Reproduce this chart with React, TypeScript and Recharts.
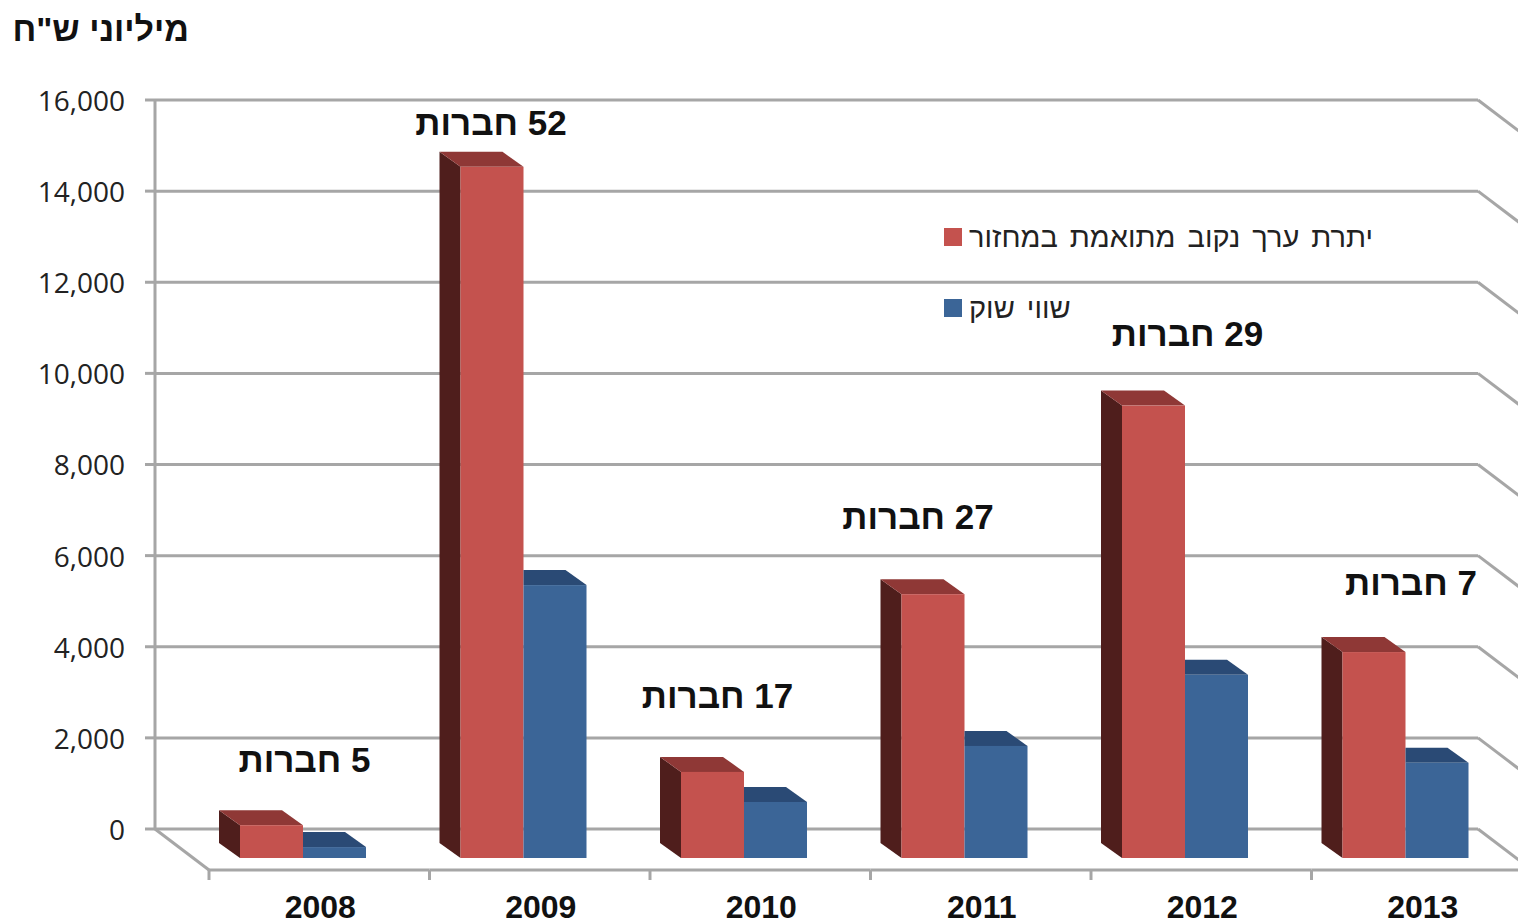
import React from 'react'
import { BarChart, Bar, XAxis, YAxis, CartesianGrid, Legend, LabelList } from 'recharts'

const years = ['2008', '2009', '2010', '2011', '2012', '2013']
const parValue = [720, 15170, 1890, 5790, 9930, 4520]
const marketValue = [240, 5990, 1230, 2460, 4020, 2090]
const companies = [5, 52, 17, 27, 29, 7]
const yTicks = [0, 2000, 4000, 6000, 8000, 10000, 12000, 14000, 16000]

const data = years.map((year, i) => ({
  year,
  parValue: parValue[i],
  marketValue: marketValue[i],
  companies: companies[i],
}))

// fake 3D: front faces sit lower right of the wall, tops and sides go back up left
const FRONT_DX = 38
const FRONT_DY = 29
const DEPTH_X = 21
const DEPTH_Y = 15
const FLOOR_DX = 54
const FLOOR_DY = 41
const BAND = 220.5
const GREY = '#a6a6a6'
const BOLD = '"Liberation Sans", Arial, sans-serif'
const LIGHT = '"Open Sans", "Liberation Sans", sans-serif'

const labelNudge = [
  [33, -66],
  [-1, -44],
  [5, -76],
  [-15, -78],
  [34, -72],
  [37, -70],
]

function RedBar({ x, y, width, height }: any) {
  const fx = x + FRONT_DX
  const fy = y + FRONT_DY
  const bx = fx - DEPTH_X
  const by = fy - DEPTH_Y
  return (
    <g>
      <polygon points={`${fx},${fy} ${fx},${fy + height} ${bx},${fy + height - DEPTH_Y} ${bx},${by}`} fill="#4f1e1c" />
      <polygon points={`${fx},${fy} ${fx + width},${fy} ${bx + width},${by} ${bx},${by}`} fill="#8f3836" />
      <rect x={fx} y={fy} width={width} height={height} fill="#c4524e" />
    </g>
  )
}

function BlueBar({ x, y, width, height }: any) {
  const fx = x + FRONT_DX
  const fy = y + FRONT_DY
  const by = fy - DEPTH_Y
  return (
    <g>
      <polygon points={`${fx},${fy} ${fx + width},${fy} ${fx + width - DEPTH_X},${by} ${fx},${by}`} fill="#2a4a75" />
      <rect x={fx} y={fy} width={width} height={height} fill="#3b6597" />
    </g>
  )
}

function CompanyLabel({ x, y, width, value, index }: any) {
  const [dx, dy] = labelNudge[index]
  return (
    <text
      x={x + FRONT_DX + width / 2 + dx}
      y={y + FRONT_DY + dy}
      textAnchor="middle"
      dominantBaseline="central"
      direction="rtl"
      style={{ direction: 'rtl', unicodeBidi: 'plaintext' }}
      fontFamily={BOLD}
      fontWeight="bold"
      fontSize={35}
      fill="#111"
    >
      {`${value} חברות`}
    </text>
  )
}

function FloorTick({ x, payload }: any) {
  const fx = x + FLOOR_DX
  const fy = 829 + FLOOR_DY
  return (
    <g>
      <line x1={fx - BAND / 2} y1={fy} x2={fx + BAND / 2} y2={fy} stroke={GREY} strokeWidth={3} />
      <line x1={fx - BAND / 2} y1={fy} x2={fx - BAND / 2} y2={fy + 10} stroke={GREY} strokeWidth={3} />
      <text x={fx + 1} y={fy + 37} textAnchor="middle" dominantBaseline="central" fontFamily={BOLD} fontWeight="bold" fontSize={32} fill="#111">
        {payload.value}
      </text>
    </g>
  )
}

function WallLine({ x1, y1, x2, y2, index }: any) {
  return (
    <g key={index}>
      <line x1={x1} y1={y1} x2={x2} y2={y2} stroke={GREY} strokeWidth={3} />
      <line x1={x2} y1={y1} x2={x2 + FLOOR_DX} y2={y1 + FLOOR_DY} stroke={GREY} strokeWidth={3} />
      {y1 > 800 && <line x1={x1} y1={y1} x2={x1 + FLOOR_DX} y2={y1 + FLOOR_DY} stroke={GREY} strokeWidth={3} />}
    </g>
  )
}

function LegendBox({ payload }: any) {
  return (
    <div>
      {(payload || []).map((item: any) => (
        <div key={item.value} style={{ display: 'flex', alignItems: 'center', height: 71 }}>
          <span style={{ width: 18, height: 18, background: item.color, marginRight: 7 }} />
          <span dir="rtl" style={{ fontFamily: BOLD, fontSize: 29, wordSpacing: 4, color: '#222', lineHeight: '36px' }}>
            {item.value}
          </span>
        </div>
      ))}
    </div>
  )
}

export default function App() {
  return (
    <div style={{ position: 'absolute', left: 0, top: 0, width: 1518, height: 922, background: '#fff', overflow: 'hidden' }}>
      <div
        dir="rtl"
        style={{
          position: 'absolute',
          left: 14,
          top: 9,
          width: 175,
          textAlign: 'right',
          fontFamily: BOLD,
          fontWeight: 'bold',
          fontSize: 34,
          lineHeight: '40px',
          color: '#111',
          whiteSpace: 'nowrap',
        }}
      >
        מיליוני ש"ח
      </div>
      <BarChart
        width={1518}
        height={922}
        data={data}
        margin={{ top: 100, right: 40, bottom: 0, left: 0 }}
        barSize={63}
        barGap={0}
        barCategoryGap={0}
      >
        <CartesianGrid vertical={false} horizontal={(props: any) => <WallLine {...props} />} />
        <XAxis dataKey="year" height={93} axisLine={false} tickLine={false} interval={0} tick={<FloorTick />} />
        <YAxis
          width={155}
          domain={[0, 16000]}
          ticks={yTicks}
          interval={0}
          tickFormatter={(v: number) => v.toLocaleString('en-US')}
          axisLine={{ stroke: GREY, strokeWidth: 3 }}
          tickLine={{ stroke: GREY, strokeWidth: 3 }}
          tickSize={10}
          tickMargin={20}
          tick={{ fontFamily: LIGHT, fontSize: 28, fill: '#222', dy: 1 }}
        />
        <Legend
          layout="vertical"
          align="center"
          verticalAlign="middle"
          wrapperStyle={{ position: 'absolute', left: 944, top: 201, width: 480 }}
          content={<LegendBox />}
        />
        <Bar dataKey="parValue" name="יתרת ערך נקוב מתואמת במחזור" fill="#c4524e" shape={<RedBar />} isAnimationActive={false}>
          <LabelList dataKey="companies" content={<CompanyLabel />} />
        </Bar>
        <Bar dataKey="marketValue" name="שווי שוק" fill="#3b6597" shape={<BlueBar />} isAnimationActive={false} />
      </BarChart>
    </div>
  )
}
